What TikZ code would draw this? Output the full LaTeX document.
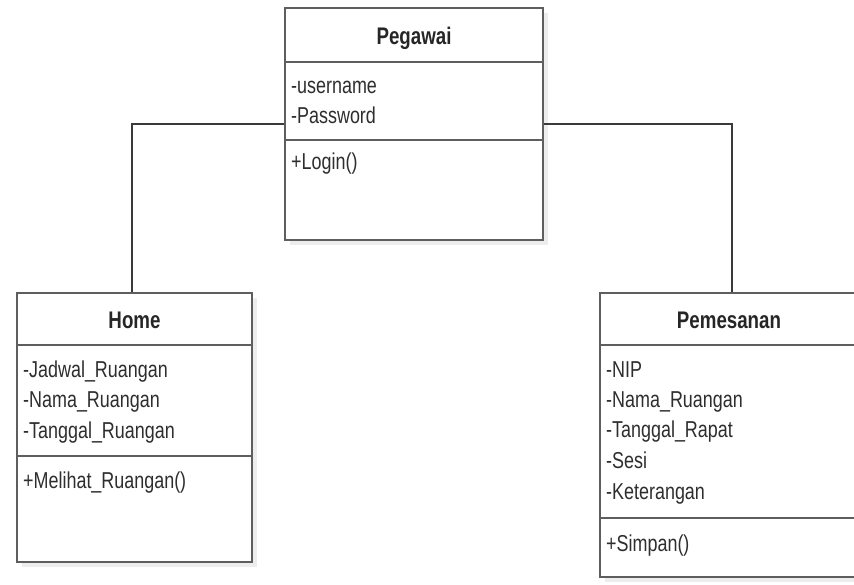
\documentclass[tikz,border=0pt]{standalone}
\usepackage{fontspec}
\setmainfont{Liberation Sans}[FakeStretch=0.78]
\begin{document}
\begin{tikzpicture}[x=1pt,y=-1pt,
  umlbox/.style={draw=boxline, line width=1.8pt, fill=white, inner sep=0pt, outer sep=0pt},
  shadowbox/.style={fill=black!7, draw=none, inner sep=0pt, outer sep=0pt},
  sepline/.style={draw=boxline, line width=1.8pt},
  conn/.style={draw=connline, line width=1.4pt},
  attr/.style={anchor=base west, inner sep=0pt, text=txt, font=\fontsize{23}{30}\selectfont},
  ttl/.style={anchor=base, inner sep=0pt, text=black!85, font=\fontsize{24}{30}\selectfont\bfseries}]
\definecolor{boxline}{HTML}{5E5E5E}
\definecolor{connline}{HTML}{3A3A3A}
\definecolor{txt}{HTML}{2E2E2E}
\useasboundingbox (0,0) rectangle (854,584);
\clip (0,0) rectangle (854,584);
\fill[white] (0,0) rectangle (854,584);

% shadows
\node[shadowbox, minimum width=258pt, minimum height=232pt] (pegs) at (419,129) {};
\node[shadowbox, minimum width=235pt, minimum height=269pt] (homes) at (139.5,432.5) {};
\node[shadowbox, minimum width=258pt, minimum height=284pt] (pems) at (734,440) {};

% connectors
\draw[conn] (285,124) -| (132,293);
\draw[conn] (543,124) -| (732,293);

% boxes
\node[umlbox, minimum width=258pt, minimum height=232pt] (peg) at (414,124) {};
\node[umlbox, minimum width=235pt, minimum height=269pt] (home) at (134.5,427.5) {};
\node[umlbox, minimum width=258pt, minimum height=284pt] (pem) at (729,435) {};

% separators
\draw[sepline] (peg.west |- 0,62) -- (peg.east |- 0,62);
\draw[sepline] (peg.west |- 0,140) -- (peg.east |- 0,140);
\draw[sepline] (home.west |- 0,345) -- (home.east |- 0,345);
\draw[sepline] (home.west |- 0,456) -- (home.east |- 0,456);
\draw[sepline] (pem.west |- 0,345) -- (pem.east |- 0,345);
\draw[sepline] (pem.west |- 0,518) -- (pem.east |- 0,518);

% Pegawai
\node[ttl] (pegt) at (414,44) {Pegawai};
\node[attr] (pega1) at (291,93) {-username};
\node[attr] (pega2) at (291,123) {-Password};
\node[attr] (pegm1) at (291,169) {+Login()};

% Home
\node[ttl] (homet) at (134.5,328) {Home};
\node[attr] (homea1) at (23,377) {-Jadwal\_Ruangan};
\node[attr] (homea2) at (23,407.5) {-Nama\_Ruangan};
\node[attr] (homea3) at (23,438) {-Tanggal\_Ruangan};
\node[attr] (homem1) at (23,488) {+Melihat\_Ruangan()};

% Pemesanan
\node[ttl] (pemt) at (729,328) {Pemesanan};
\node[attr] (pema1) at (606,377) {-NIP};
\node[attr] (pema2) at (606,407) {-Nama\_Ruangan};
\node[attr] (pema3) at (606,437) {-Tanggal\_Rapat};
\node[attr] (pema4) at (606,468) {-Sesi};
\node[attr] (pema5) at (606,499) {-Keterangan};
\node[attr] (pemm1) at (606,551) {+Simpan()};
\end{tikzpicture}
\end{document}
